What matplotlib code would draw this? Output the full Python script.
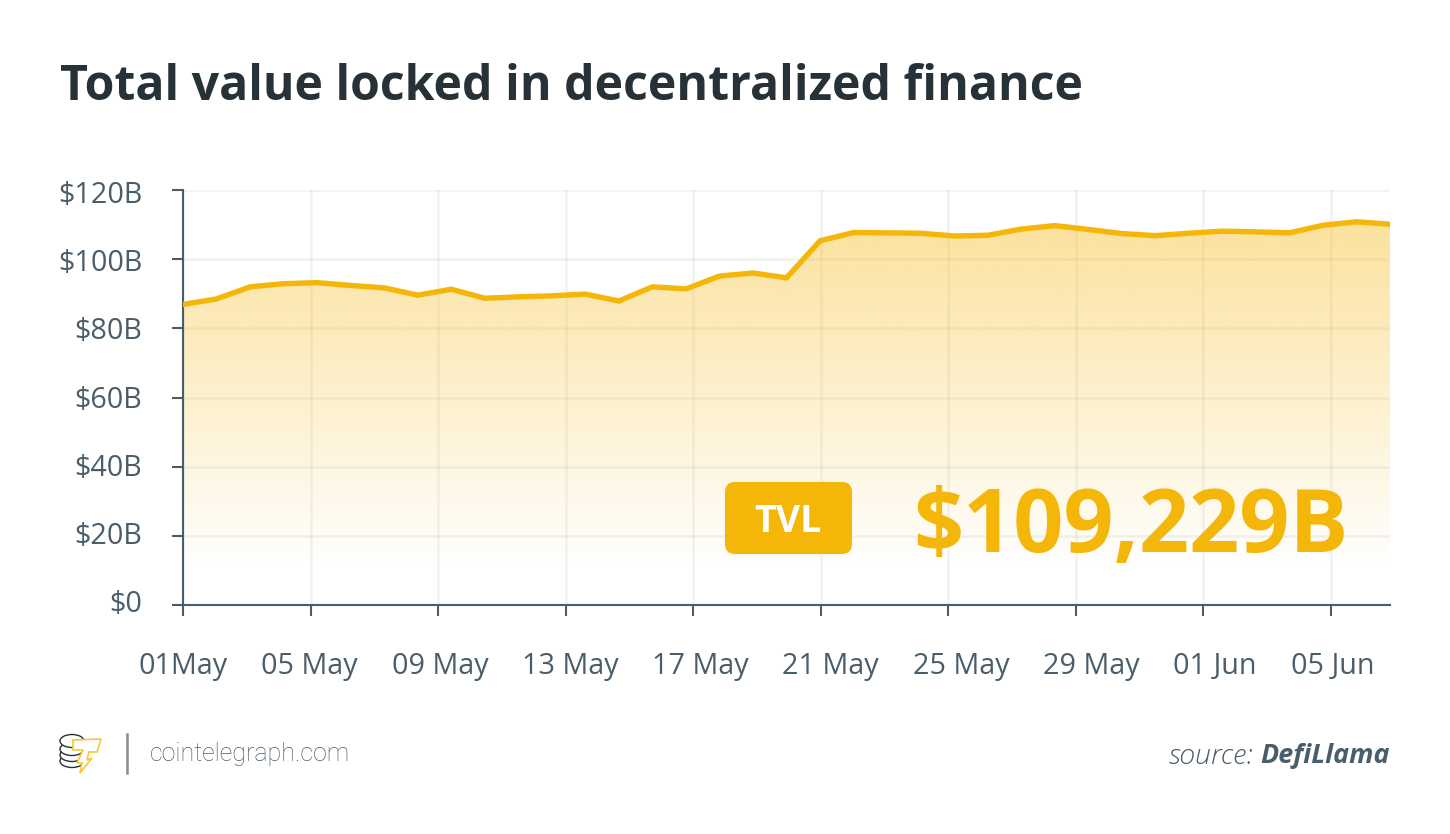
import numpy as np
import matplotlib.pyplot as plt
from matplotlib.patches import FancyBboxPatch, Ellipse, Polygon
from matplotlib.transforms import ScaledTranslation

plt.rcParams['font.family'] = 'Open Sans'

# values in billions, one point per step along the axis
tvl = [86.9, 88.5, 92.0, 92.9, 93.2, 92.4, 91.7, 89.6, 91.3, 88.7, 89.1, 89.4, 89.9,
       87.9, 92.0, 91.4, 95.1, 96.0, 94.6, 105.3, 107.7, 107.6, 107.5, 106.7, 106.9,
       108.7, 109.7, 108.6, 107.4, 106.8, 107.5, 108.1, 107.9, 107.6, 109.8, 110.8, 110.1]
y_ticks = [0, 20, 40, 60, 80, 100, 120]
y_labels = ['$0', '$20B', '$40B', '$60B', '$80B', '$100B', '$120B']
x_labels = ['01May', '05 May', '09 May', '13 May', '17 May', '21 May', '25 May', '29 May', '01 Jun', '05 Jun']
x_ticks = [i * 3.803 for i in range(len(x_labels))]
# labels drift off their ticks in the original, in pixels
x_label_shift = [0, -1, 2, 5, 7, 10, 13, 16, 12, 2]
y_label_shift = [4, 3, 2, 1, 0, -1, -2]

W, H = 1450, 834
yellow = '#F5B60A'
dark = '#263238'
grey = '#4A5D6A'

fig = plt.figure(figsize=(W / 100, H / 100), dpi=100, facecolor='white')
ax = fig.add_axes([183 / W, 1 - 605 / H, (1390 - 183) / W, (605 - 190) / H])

x = np.arange(len(tvl))
ax.set_xlim(0, 36)
ax.set_ylim(0, 120)

# gradient under the line
grad = np.zeros((256, 1, 4))
grad[..., 0] = 0xF5 / 255
grad[..., 1] = 0xB6 / 255
grad[..., 2] = 0x0A / 255
grad[:, 0, 3] = np.linspace(0.44, 0, 256)
img = ax.imshow(grad, extent=[0, 36, 10, 120], origin='upper', aspect='auto', zorder=2)
poly = ax.fill_between(x, tvl, 0, color='none')
img.set_clip_path(poly.get_paths()[0], transform=ax.transData)
ax.set_xlim(0, 36)
ax.set_ylim(0, 120)

ax.plot(x, tvl, color=yellow, lw=3.9, zorder=3, solid_joinstyle='miter')

ax.set_xticks(x_ticks)
ax.set_xticklabels(x_labels)
ax.set_yticks(y_ticks)
ax.set_yticklabels(y_labels)
ax.grid(True, color='black', alpha=0.05, lw=1.8, zorder=1)
ax.set_axisbelow(True)
ax.tick_params(axis='both', length=8, width=1.5, color=grey, labelcolor=grey, labelsize=20.7)
ax.tick_params(axis='x', pad=26)
ax.tick_params(axis='y', pad=21.5)
for side in ['top', 'right']:
    ax.spines[side].set_visible(False)
for side in ['left', 'bottom']:
    ax.spines[side].set_color(grey)
    ax.spines[side].set_linewidth(1.5)

for lab, dx in zip(ax.get_xticklabels(), x_label_shift):
    lab.set_transform(lab.get_transform() + ScaledTranslation(dx / 100, 0, fig.dpi_scale_trans))
for lab, dy in zip(ax.get_yticklabels(), y_label_shift):
    lab.set_transform(lab.get_transform() + ScaledTranslation(0, dy / 100, fig.dpi_scale_trans))

# overlay in pixel coordinates for title, badge, footer
ov = fig.add_axes([0, 0, 1, 1], facecolor='none')
ov.set_xlim(0, W)
ov.set_ylim(H, 0)
ov.axis('off')

ov.text(60, 87, 'Total value locked in decentralized finance', fontsize=34.75, fontweight='bold',
        color=dark, va='center', ha='left')

ov.add_patch(FancyBboxPatch((725, 482), 127, 72, boxstyle='round,pad=0,rounding_size=10', fc=yellow, ec='none'))
ov.text(788, 522, 'TVL', fontsize=27, fontweight='bold', color='white', ha='center', va='center')
ov.text(1131, 529, '$109,229B', fontsize=63.3, fontweight='bold', color=yellow, ha='center', va='center')

# logo
for cy in [761, 755, 749, 741]:
    ov.add_patch(Ellipse((72, cy), 24, 13, fc='white', ec=dark, lw=1.0))
bolt = [(73, 740), (101, 739), (97, 752), (89, 752), (87, 760), (92, 758), (80, 773), (82, 763), (77, 763), (83, 750), (73, 750)]
ov.add_patch(Polygon(bolt, closed=True, fc='white', ec='#F8C636', lw=1.2))
ov.plot([127, 127], [734, 773], color='#8a8a8a', lw=1.8)
ov.text(150, 754, 'cointelegraph.com', fontsize=18, color=grey, family='Roboto', fontweight='light',
        ha='left', va='center')

ov.text(1390, 756, 'DefiLlama', fontsize=19.4, color=grey, style='italic', fontweight='bold', ha='right', va='center')
ov.text(1254, 756, 'source:', fontsize=20.5, color=grey, style='italic', fontweight='light', ha='right', va='center')

fig.savefig('out.png', dpi=100)
